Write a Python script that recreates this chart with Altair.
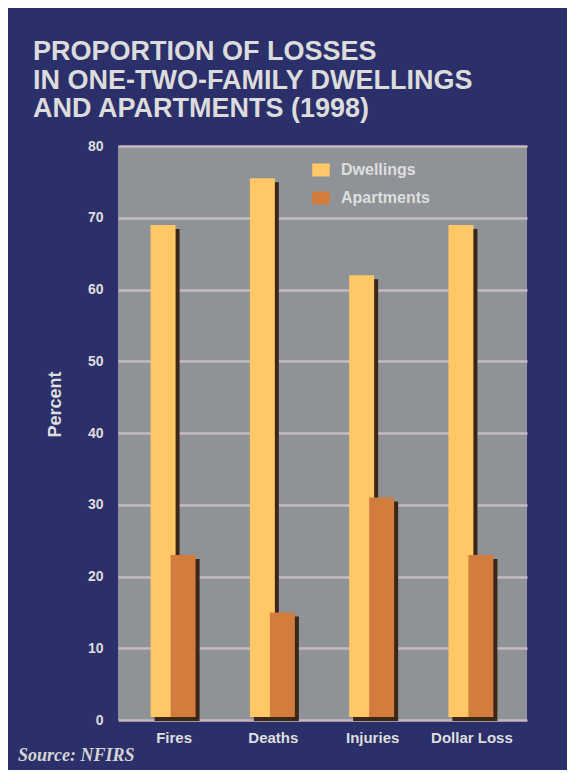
import altair as alt
import pandas as pd

categories = ["Fires", "Deaths", "Injuries", "Dollar Loss"]
series = ["Dwellings", "Apartments"]
dwellings = [69, 75.5, 62, 69]
apartments = [23, 15, 31, 23]
y_ticks = [0, 10, 20, 30, 40, 50, 60, 70, 80]
title_lines = ["PROPORTION OF LOSSES", "IN ONE-TWO-FAMILY DWELLINGS", "AND APARTMENTS (1998)"]
source_text = "Source: NFIRS"
colors = ["#ffc766", "#d27c3e"]

rows = []
for i, c in enumerate(categories):
    rows.append({"cat": c, "series": "Dwellings", "val": dwellings[i]})
    rows.append({"cat": c, "series": "Apartments", "val": apartments[i]})
df = pd.DataFrame(rows)

W, H = 409, 574
BAR = 25
TXT = "#dedede"

xs = alt.X("cat:N", sort=categories,
           scale=alt.Scale(type="point", padding=0.56),
           axis=alt.Axis(title=None, labelAngle=0, domain=False, ticks=False,
                         labelPadding=10, labelFontSize=15, labelFontWeight="bold",
                         labelColor=TXT, labelFont="Liberation Sans", grid=False))
ys = alt.Y("val:Q", scale=alt.Scale(domain=[0, 80], nice=False),
           axis=alt.Axis(title="Percent", values=y_ticks, domain=False, ticks=False,
                         labelPadding=15, labelFontSize=14, labelFontWeight="bold",
                         labelColor=TXT, labelFont="Liberation Sans", titleColor=TXT,
                         titleFont="Liberation Sans", titleFontSize=18,
                         titleFontWeight="bold", titlePadding=23, titleY=258,
                         grid=True, gridColor="#c8b9c0", gridWidth=2.5))
col = alt.Color("series:N", scale=alt.Scale(domain=series, range=colors),
                legend=alt.Legend(title=None, orient="none", legendX=195, legendY=16,
                                  symbolType="M-1.35,-1H1.35V1H-1.35Z", symbolSize=169,
                                  symbolStrokeWidth=0, labelOffset=12,
                                  labelFontSize=16, labelFontWeight="bold",
                                  labelColor=TXT, labelFont="Liberation Sans",
                                  rowPadding=12))

base = alt.Chart(df)

def layer(name, dx):
    sub = base.transform_filter(alt.datum.series == name)
    shadow = sub.mark_bar(size=BAR, color="#3a2716", xOffset=dx + 4,
                          yOffset=4, y2Offset=1).encode(x=xs, y=ys, y2=alt.datum(0))
    bar = sub.mark_bar(size=BAR, xOffset=dx, y2Offset=-3).encode(
        x=xs, y=ys, y2=alt.datum(0), color=col)
    return shadow, bar

d_sh, d_bar = layer("Dwellings", -10.5)
a_sh, a_bar = layer("Apartments", 9.5)

one = alt.Data(values=[{"k": 0}])
title_main = alt.Chart(one).mark_text(
    text=title_lines, align="left", baseline="alphabetic", font="Liberation Sans",
    fontWeight="bold", fontSize=27, lineHeight=28.5, color="#dcdcdc"
).encode(x=alt.value(-85), y=alt.value(-86))
src_main = alt.Chart(one).mark_text(
    text=source_text, align="left", baseline="alphabetic", font="Liberation Serif",
    fontStyle="italic", fontWeight="bold", fontSize=18, color="#d4d4d4"
).encode(x=alt.value(-100), y=alt.value(615))

chart = alt.layer(
    d_sh, d_bar, a_sh, a_bar, title_main, src_main
).properties(
    width=W, height=H,
    autosize=alt.AutoSizeParams(type="none"),
    padding={"left": 110, "top": 138, "right": 40, "bottom": 50},
    background="#2c306a",
).configure_view(
    fill="#8f9297", stroke=None
)

chart.save("out.html", embed_options={"renderer": "svg", "actions": False})
